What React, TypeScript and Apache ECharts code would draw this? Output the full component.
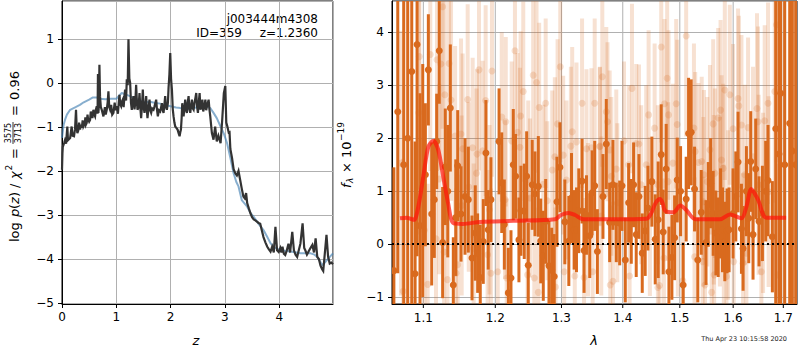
import React, { useEffect, useRef } from "react";
import * as echarts from "echarts";

// ---------- left panel: redshift PDF ----------
const zBlack = [0.0, 0.008, 0.015, 0.024, 0.04, 0.055, 0.075, 0.098, 0.11, 0.15, 0.178, 0.195, 0.221, 0.24, 0.258, 0.27, 0.283, 0.3, 0.315, 0.332, 0.35, 0.365, 0.38, 0.394, 0.42, 0.43, 0.44, 0.455, 0.47, 0.48, 0.5, 0.517, 0.53, 0.545, 0.56, 0.578, 0.595, 0.609, 0.625, 0.64, 0.655, 0.662, 0.67, 0.68, 0.689, 0.7, 0.715, 0.732, 0.75, 0.763, 0.79, 0.805, 0.824, 0.84, 0.855, 0.87, 0.886, 0.905, 0.925, 0.947, 0.97, 0.985, 1.009, 1.03, 1.045, 1.058, 1.072, 1.089, 1.105, 1.119, 1.135, 1.15, 1.162, 1.18, 1.193, 1.21, 1.224, 1.24, 1.255, 1.27, 1.285, 1.3, 1.316, 1.335, 1.35, 1.365, 1.378, 1.39, 1.41, 1.427, 1.442, 1.457, 1.472, 1.488, 1.503, 1.519, 1.535, 1.55, 1.562, 1.574, 1.59, 1.611, 1.625, 1.642, 1.66, 1.685, 1.7, 1.72, 1.734, 1.75, 1.765, 1.785, 1.808, 1.825, 1.839, 1.855, 1.87, 1.885, 1.9, 1.915, 1.931, 1.95, 1.962, 1.978, 1.993, 2.008, 2.024, 2.04, 2.054, 2.07, 2.085, 2.105, 2.128, 2.15, 2.165, 2.178, 2.19, 2.203, 2.214, 2.225, 2.239, 2.255, 2.269, 2.285, 2.3, 2.315, 2.331, 2.347, 2.362, 2.378, 2.392, 2.408, 2.423, 2.44, 2.455, 2.472, 2.488, 2.503, 2.518, 2.534, 2.55, 2.57, 2.585, 2.6, 2.62, 2.64, 2.655, 2.675, 2.7, 2.715, 2.73, 2.76, 2.79, 2.82, 2.85, 2.88, 2.92, 2.95, 2.98, 3.007, 3.025, 3.045, 3.07, 3.085, 3.1, 3.13, 3.16, 3.19, 3.22, 3.25, 3.28, 3.31, 3.34, 3.365, 3.39, 3.41, 3.44, 3.47, 3.5, 3.53, 3.56, 3.59, 3.62, 3.65, 3.68, 3.71, 3.745, 3.78, 3.81, 3.84, 3.87, 3.9, 3.93, 3.96, 3.99, 4.02, 4.04, 4.06, 4.085, 4.11, 4.14, 4.17, 4.2, 4.24, 4.27, 4.3, 4.33, 4.36, 4.39, 4.43, 4.46, 4.48, 4.51, 4.54, 4.575, 4.61, 4.64, 4.67, 4.7, 4.73, 4.76, 4.79, 4.81, 4.83, 4.87, 4.9, 4.93, 4.96, 4.99];
const pBlack = [-1.97, -1.6, -1.45, -1.44, -1.36, -1.3, -1.38, -0.99, -1.3, -1.25, -0.99, -1.2, -1.21, -1.05, -0.61, -1.0, -1.14, -1.08, -0.9, -1.06, -0.95, -1.02, -0.85, -0.99, -0.92, -0.78, -0.95, -0.91, -0.72, -0.82, -0.88, -0.84, -0.65, -0.7, -0.8, -0.61, -0.72, -0.76, -0.6, -0.53, -0.7, 0.2, -0.68, -0.5, 0.41, -0.3, -0.55, -0.61, -0.7, -0.76, -0.55, -0.72, -0.61, -0.45, -0.19, -0.55, -0.61, -0.5, -0.72, -0.68, -0.45, -0.62, -0.53, -0.7, -0.45, -0.27, -0.48, -0.53, -0.42, -0.38, -0.55, -0.3, -0.15, -0.4, 0.08, -0.05, 0.99, 0.1, 0.0, -0.45, -0.61, -0.45, -0.3, -0.6, -0.45, -0.04, -0.4, -0.61, -0.55, -0.23, -0.55, -0.8, -0.55, -0.15, -0.55, -0.68, -0.5, -0.3, -0.6, -0.8, -0.6, -0.38, -0.62, -0.68, -0.58, -0.61, -0.55, -0.45, -0.38, -0.62, -0.76, -0.62, -0.65, -0.55, -0.46, -0.62, -0.68, -0.5, -0.3, -0.55, -0.61, -0.45, -0.11, 0.2, 0.68, 0.1, -0.15, -0.6, -0.76, -0.9, -0.99, -1.02, -1.06, -1.15, -1.21, -1.12, -1.06, -0.8, -0.46, -0.65, -0.76, -0.55, -0.38, -0.62, -0.68, -0.45, -0.3, -0.6, -0.68, -0.5, -0.38, -0.58, -0.61, -0.45, -0.35, -0.23, -0.55, -0.68, -0.45, -0.23, -0.61, -0.5, -0.38, -0.65, -0.55, -0.38, -0.62, -0.5, -0.38, -0.6, -0.76, -1.14, -1.29, -0.99, -1.33, -1.2, -1.37, -0.84, -0.23, -0.07, -0.9, -0.99, -1.13, -1.12, -1.5, -1.7, -1.96, -2.05, -2.1, -2.0, -2.2, -2.4, -2.58, -2.62, -2.5, -2.73, -2.85, -2.96, -3.05, -3.1, -3.12, -3.15, -3.18, -3.2, -3.35, -3.5, -3.62, -3.72, -3.78, -3.83, -3.72, -3.85, -3.27, -3.8, -3.84, -3.75, -3.85, -3.72, -3.88, -3.91, -3.8, -3.65, -3.85, -3.38, -3.8, -3.9, -3.95, -3.8, -3.65, -3.19, -3.75, -3.8, -3.9, -3.83, -3.75, -3.68, -3.85, -3.53, -3.95, -4.0, -4.15, -4.23, -4.27, -4.0, -3.45, -3.95, -4.1, -4.08, -4.12];

const zBlue = [0.0, 0.03, 0.055, 0.09, 0.15, 0.25, 0.33, 0.4, 0.5, 0.57, 0.64, 0.7, 0.8, 0.9, 1.0, 1.06, 1.1, 1.15, 1.25, 1.35, 1.44, 1.52, 1.62, 1.7, 1.81, 1.9, 2.0, 2.1, 2.18, 2.3, 2.42, 2.55, 2.67, 2.73, 2.79, 2.85, 2.92, 2.98, 3.04, 3.1, 3.16, 3.21, 3.25, 3.31, 3.41, 3.47, 3.53, 3.62, 3.71, 3.78, 3.84, 3.92, 4.02, 4.21, 4.39, 4.58, 4.65, 4.7, 4.75, 4.79, 4.84, 4.88, 4.94, 4.99];
const pBlue = [-1.25, -0.95, -0.84, -0.72, -0.61, -0.55, -0.5, -0.44, -0.38, -0.33, -0.33, -0.36, -0.37, -0.36, -0.36, -0.28, -0.23, -0.25, -0.3, -0.36, -0.4, -0.44, -0.43, -0.45, -0.47, -0.5, -0.53, -0.56, -0.57, -0.58, -0.57, -0.54, -0.53, -0.57, -0.68, -0.8, -0.99, -1.15, -1.37, -1.7, -2.05, -2.25, -2.35, -2.66, -2.81, -2.95, -3.04, -3.2, -3.34, -3.5, -3.64, -3.74, -3.8, -3.83, -3.87, -3.87, -3.9, -3.95, -4.05, -4.14, -4.08, -4.02, -3.94, -3.87];

// ---------- right panel: spectrum ----------
const waveTicks = [1.1, 1.2, 1.3, 1.4, 1.5, 1.6, 1.7];

const darkWave = [1.0615, 1.0665, 1.0742, 1.0794, 1.0847, 1.0891, 1.0917, 1.0956, 1.0992, 1.1027, 1.1067, 1.1112, 1.1147, 1.1179, 1.1214, 1.126, 1.1296, 1.133, 1.1365, 1.1406, 1.144, 1.1467, 1.1513, 1.1569, 1.1615, 1.1667, 1.1713, 1.1747, 1.1784, 1.1827, 1.1865, 1.1898, 1.1937, 1.2055, 1.2094, 1.2132, 1.2191, 1.223, 1.2264, 1.2299, 1.2348, 1.2378, 1.2428, 1.2464, 1.2488, 1.2548, 1.259, 1.2641, 1.2678, 1.2717, 1.2754, 1.2805, 1.2847, 1.2887, 1.2929, 1.2976, 1.3053, 1.3116, 1.3159, 1.3201, 1.3238, 1.3275, 1.3328, 1.336, 1.3399, 1.3452, 1.349, 1.3533, 1.3577, 1.3669, 1.3724, 1.378, 1.3835, 1.3891, 1.3948, 1.3987, 1.4043, 1.41, 1.4145, 1.4185, 1.423, 1.4277, 1.4334, 1.4385, 1.4433, 1.4502, 1.4561, 1.4613, 1.4667, 1.4702, 1.4755, 1.4804, 1.4857, 1.4906, 1.4953, 1.5014, 1.5061, 1.5116, 1.516, 1.5208, 1.527, 1.533, 1.5394, 1.5483, 1.5525, 1.557, 1.5618, 1.5669, 1.5713, 1.5758, 1.5795, 1.5839, 1.5883, 1.5921, 1.5998, 1.6051, 1.6095, 1.6161, 1.6193, 1.6258, 1.6304, 1.6343, 1.6389, 1.6442, 1.6508, 1.6576, 1.6642, 1.6689, 1.6777, 1.6845, 1.6912, 1.6946, 1.7029, 1.7132, 1.7187, 1.7256];
const darkFlux = [-0.5, 2.5, 1.5, 2.0, 3.26, -0.56, 3.77, 0.35, 1.2, 1.31, 3.29, 0.57, 0.84, 1.94, 3.65, 0.03, 1.46, 1.0, 2.57, -0.77, 0.5, 1.48, 0.57, 0.9, 0.84, -0.26, 0.21, -0.17, -0.63, 0.05, 1.72, 0.27, 0.84, 1.94, 1.16, 0.37, -0.92, -0.64, 1.5, 1.28, 0.08, 0.63, 0.62, 1.28, -0.4, 1.12, 0.95, 1.09, 0.06, -0.22, 0.43, -0.41, -0.49, -0.61, 0.8, 1.45, 0.42, 0.06, 0.87, 0.27, 0.27, 0.63, 1.19, -0.12, 0.55, 0.16, 0.97, 1.1, -0.14, 0.9, 1.89, 0.41, 1.12, 0.41, 0.4, 1.1, -0.3, 0.78, 0.43, 1.12, 0.18, 0.9, -0.17, 0.25, 0.68, 1.18, 0.09, 0.46, 1.69, 0.23, 1.42, -0.52, -0.25, 0.12, 1.21, 1.0, -0.77, 0.85, 2.09, 2.11, 1.04, -0.3, 0.6, 0.03, 0.75, 1.15, 0.58, 0.21, 0.13, 0.58, 0.27, 0.05, 0.25, 0.27, 0.58, 0.9, 1.55, 0.29, -0.08, 1.0, 0.49, 1.56, 0.18, 1.42, 0.43, 0.58, 1.0, 1.2, 0.14, 2.18, 1.7, 2.85, 1.5, 2.28, 1.76, 1.5];
const darkErr = [
  1.95, 3.05, 4.0, 4.0, 4.5, 2.5, 4.0, 2.5, 2.2, 1.35, 1.05, 1.35, 1.1, 0.9, 1.0, 1.05, 1.1, 1.25, 1.2, 0.9, 1.1, 1.05, 0.9, 1.1, 1.0, 0.8, 0.9, 0.75, 1.0, 0.8, 1.0, 0.75, 0.8,
  1.0, 0.95, 0.85, 0.85, 0.9, 1.05, 0.8, 0.8, 0.85, 0.9, 0.85, 0.8, 0.85, 0.8, 0.95, 0.8, 0.85, 0.8, 0.85, 0.8, 0.8, 0.85, 0.85, 0.8, 0.85, 0.85, 0.75, 0.8, 0.8, 0.8, 0.8, 0.75, 0.8, 0.8, 0.85, 0.8,
  0.8, 0.85, 0.75, 0.85, 0.75, 0.8, 0.85, 0.8, 0.75, 0.8, 0.8, 0.8, 0.8, 0.75, 0.85, 0.8, 0.85, 0.85, 1.1, 0.95, 0.8, 0.85, 0.85, 0.8, 0.8, 0.8, 0.85, 0.8, 0.8, 1.05, 1.0, 0.8, 0.8, 0.8,
  0.8, 0.8, 0.85, 0.8, 0.8, 0.75, 0.85, 0.8, 0.75, 0.8, 0.8, 0.85, 0.85, 0.95, 0.85, 0.8, 0.85, 0.85, 0.95, 0.85, 0.95, 0.85, 0.9, 0.95, 1.05, 1.05,
  4.5, 5.0, 5.0, 5.0, 5.0, 5.0, 5.0,
];

const lightWave = [1.126, 1.0947, 1.1093, 1.1183, 1.1236, 1.1348, 1.129, 1.1375, 1.1606, 1.1766, 1.1952, 1.1861, 1.0939, 1.1513, 1.1431, 1.1676, 1.1536, 1.1738, 1.1817, 1.0707, 1.1731, 1.1214, 1.1621, 1.1522, 1.1916, 1.117, 1.1013, 1.128, 1.169, 1.1889, 1.1467, 1.0735, 1.1058, 1.1326, 1.1444, 1.1937, 1.2289, 1.2413, 1.2563, 1.2614, 1.2654, 1.2754, 1.2981, 1.3328, 1.3533, 1.2094, 1.2153, 1.2373, 1.2328, 1.224, 1.2363, 1.2939, 1.3027, 1.2896, 1.317, 1.3149, 1.3238, 1.3399, 1.348, 1.362, 1.2856, 1.2488, 1.2717, 1.3079, 1.2779, 1.2514, 1.2142, 1.3424, 1.2036, 1.2167, 1.258, 1.2478, 1.3211, 1.336, 1.35, 1.2641, 1.2906, 1.3043, 1.3658, 1.4157, 1.4667, 1.4773, 1.5116, 1.4935, 1.4725, 1.4445, 1.4797, 1.3724, 1.3745, 1.455, 1.4953, 1.5259, 1.3615, 1.423, 1.4021, 1.378, 1.4277, 1.5282, 1.4875, 1.4403, 1.41, 1.3891, 1.5342, 1.3808, 1.479, 1.4316, 1.4608, 1.3908, 1.3641, 1.4467, 1.4965, 1.4715, 1.4116, 1.379, 1.3835, 1.4608, 1.4636, 1.5056, 1.527, 1.5839, 1.5935, 1.6095, 1.611, 1.5758, 1.5713, 1.5618, 1.5998, 1.6161, 1.6291, 1.6468, 1.6689, 1.6622, 1.6488, 1.6859, 1.6825, 1.5557, 1.5777, 1.5403, 1.5445, 1.5507, 1.5807, 1.565, 1.6226, 1.6389, 1.65, 1.67, 1.5432, 1.563, 1.5745, 1.5903, 1.6589, 1.6258, 1.601, 1.582, 1.6193, 1.5421, 1.5636, 1.6555, 1.5871, 1.5464, 1.6892, 1.5589];
const lightFlux = [4.48, 3.54, 3.58, 3.48, 3.4, 3.41, 2.82, 2.72, 2.73, 3.29, 3.27, 2.71, 2.48, 2.08, 2.04, 1.82, 1.8, 1.7, 1.76, 1.53, 1.34, 1.23, 1.08, 0.73, 0.65, 0.1, 0.26, -0.15, -0.08, -0.2, -0.39, -0.89, -0.76, -0.67, -0.55, -0.55, 3.65, 2.88, 3.19, 3.05, 2.58, 2.66, 3.35, 2.66, 2.66, 2.4, 2.31, 2.42, 2.11, 1.95, 1.83, 2.27, 1.68, 1.65, 2.12, 1.85, 1.93, 1.8, 1.82, 1.85, 1.4, 1.21, 1.13, 1.21, 0.82, 0.87, 0.84, 0.46, -0.52, -0.64, -0.64, -0.58, -0.6, -0.63, -0.52, -0.91, -0.81, -0.52, 3.16, 2.94, 3.72, 3.13, 3.93, 2.65, 2.65, 2.44, 2.44, 2.5, 2.31, 2.19, 2.26, 2.19, 1.84, 1.9, 1.95, 1.78, 1.89, 1.75, 1.53, 1.5, 1.5, 1.42, 1.54, 1.28, 1.18, 1.12, 1.12, 0.78, 0.53, 0.52, 0.51, -0.26, -0.6, -0.77, -0.7, -0.82, -0.78, -0.69, -0.24, 2.91, 2.82, 2.75, 2.61, 2.53, 2.38, 2.27, 2.18, 2.25, 2.2, 2.56, 2.66, 2.33, 2.31, 4.14, 2.88, 1.78, 1.59, 1.56, 1.31, 1.18, 1.43, 1.34, 1.31, 1.65, 1.12, 0.99, 0.8, 0.84, 0.8, 0.55, 0.78, -0.17, -0.33, -0.2, -0.36, -0.33, -0.58, -0.52, -0.61, -0.77, -0.58, -0.91];
const lightErr = [2.3, 2.5, 2.2, 2.1, 2.0, 2.0, 1.9, 1.9, 1.8, 1.9, 2.0, 1.8, 2.3, 1.8, 1.7, 1.7, 1.8, 1.6, 1.7, 2.5, 1.6, 1.8, 1.6, 1.7, 1.6, 1.7, 2.0, 1.7, 1.6, 1.6, 1.7, 2.5, 1.9, 1.7, 1.6, 1.6, 1.9, 1.7, 1.8, 1.7, 1.6, 1.6, 1.8, 1.6, 1.6, 1.6, 1.6, 1.6, 1.5, 1.5, 1.5, 1.6, 1.5, 1.5, 1.6, 1.5, 1.5, 1.5, 1.5, 1.5, 1.5, 1.5, 1.5, 1.5, 1.5, 1.5, 1.5, 1.45, 1.5, 1.5, 1.5, 1.5, 1.5, 1.5, 1.5, 1.6, 1.5, 1.5, 1.7, 1.6, 1.8, 1.7, 1.9, 1.6, 1.6, 1.6, 1.6, 1.6, 1.5, 1.6, 1.6, 1.6, 1.5, 1.5, 1.5, 1.5, 1.5, 1.5, 1.5, 1.5, 1.5, 1.5, 1.5, 1.5, 1.5, 1.5, 1.5, 1.5, 1.5, 1.5, 1.5, 1.5, 1.5, 1.5, 1.5, 1.5, 1.5, 1.5, 1.5, 1.7, 1.7, 1.7, 1.7, 1.7, 1.7, 1.6, 1.6, 1.7, 1.7, 1.8, 1.9, 1.8, 1.8, 2.6, 2.1, 1.6, 1.6, 1.6, 1.6, 1.6, 1.6, 1.6, 1.7, 1.7, 1.7, 1.8, 1.6, 1.6, 1.6, 1.6, 1.7, 1.7, 1.7, 1.7, 1.7, 1.6, 1.6, 1.7, 1.6, 1.6, 2.1, 1.6];

const modelWave = [1.0694, 1.078, 1.085, 1.088, 1.0934, 1.1, 1.1067, 1.1133, 1.12, 1.1267, 1.1334, 1.1403, 1.1539, 1.1781, 1.2265, 1.2899, 1.2992, 1.3108, 1.3214, 1.3348, 1.3841, 1.4411, 1.4484, 1.457, 1.4645, 1.469, 1.4735, 1.4884, 1.501, 1.5113, 1.5289, 1.5747, 1.5935, 1.616, 1.6256, 1.6356, 1.6487, 1.6654, 1.7058];
const modelFlux = [0.49, 0.5, 0.47, 0.46, 0.71, 1.28, 1.84, 1.95, 1.78, 1.28, 0.78, 0.4, 0.38, 0.42, 0.44, 0.47, 0.55, 0.59, 0.55, 0.47, 0.47, 0.48, 0.57, 0.78, 0.85, 0.78, 0.63, 0.6, 0.73, 0.65, 0.47, 0.47, 0.56, 0.49, 0.7, 1.04, 0.84, 0.5, 0.5];

const FONT = "DejaVu Sans";
const L_XMAX = 4.99, L_YMIN = -5.02, L_YMAX = 1.86;
const R_XMIN = 1.0591, R_XMAX = 1.7284, R_YMIN = -1.13, R_YMAX = 4.59;
const DARK = "#d96a1e";
const LIGHT = "rgba(217,106,30,0.2)";

const minus = (v: number) => String(v).replace("-", "\u2212");

const errBar = (w: number, fill: string, r: number) => (_p: any, api: any) => {
  const x = api.value(0), f = api.value(1), e = api.value(2);
  const top = api.coord([x, f + e]);
  const bot = api.coord([x, f - e]);
  const c = api.coord([x, f]);
  return {
    type: "group",
    children: [
      { type: "rect", shape: { x: top[0] - w / 2, y: top[1], width: w, height: bot[1] - top[1] }, style: { fill } },
      { type: "circle", shape: { cx: c[0], cy: c[1], r }, style: { fill } },
    ],
  };
};

const txt = (text: string, x: number, y: number, extra: any = {}) => ({
  type: "text",
  x,
  y,
  style: {
    text,
    fontSize: 13,
    fontFamily: FONT,
    fill: "#000",
    align: "left",
    textAlign: "left",
    verticalAlign: "middle",
    textVerticalAlign: "middle",
    ...extra,
  },
});

export default function App() {
  const ref = useRef<HTMLDivElement>(null);
  useEffect(() => {
    if (!ref.current) return;
    const chart = echarts.init(ref.current, undefined, { renderer: "svg" });
    const axisLabel = { color: "#000", fontSize: 12, fontFamily: FONT, formatter: minus };
    const option: any = {
      animation: false,
      grid: [
        { left: 62, top: 1, width: 271, height: 303, show: true, borderColor: "#000", borderWidth: 1, backgroundColor: "transparent" },
        { left: 392, top: 1, width: 405, height: 303, show: true, borderColor: "#000", borderWidth: 1, backgroundColor: "transparent" },
      ],
      xAxis: [
        {
          type: "value", gridIndex: 0, min: 0, max: L_XMAX, interval: 1,
          axisLine: { show: true, onZero: false, lineStyle: { color: "#000" } },
          axisTick: { show: true, length: 4, lineStyle: { color: "#000" } },
          axisLabel: { ...axisLabel, margin: 7, showMaxLabel: false },
          splitLine: { show: true, lineStyle: { color: "#b0b0b0", width: 1 } },
        },
        {
          type: "log", gridIndex: 1, min: R_XMIN, max: R_XMAX,
          axisLine: { show: true, onZero: false, lineStyle: { color: "#000" } },
          axisTick: { show: false },
          axisLabel: { show: false },
          splitLine: { show: false },
          minorSplitLine: { show: false },
        },
      ],
      yAxis: [
        {
          type: "value", gridIndex: 0, min: L_YMIN, max: L_YMAX, splitNumber: 5,
          axisLine: { show: true, onZero: false, lineStyle: { color: "#000" } },
          axisTick: { show: true, length: 4, lineStyle: { color: "#000" } },
          axisLabel: { ...axisLabel, margin: 8, showMinLabel: false, showMaxLabel: false },
          splitLine: { show: true, lineStyle: { color: "#b0b0b0", width: 1 } },
        },
        {
          type: "value", gridIndex: 1, min: R_YMIN, max: R_YMAX, splitNumber: 5,
          axisLine: { show: true, onZero: false, lineStyle: { color: "#000" } },
          axisTick: { show: true, length: 4, lineStyle: { color: "#000" } },
          axisLabel: { ...axisLabel, margin: 8, showMinLabel: false, showMaxLabel: false },
          splitLine: { show: true, lineStyle: { color: "#b0b0b0", width: 1 } },
        },
      ],
      series: [
        {
          type: "line", xAxisIndex: 0, yAxisIndex: 0, z: 3,
          data: zBlue.map((z, i) => [z, pBlue[i]]),
          showSymbol: false, symbol: "none",
          lineStyle: { color: "rgba(70,130,180,0.65)", width: 2 },
        },
        {
          type: "line", xAxisIndex: 0, yAxisIndex: 0, z: 4,
          data: zBlack.map((z, i) => [z, pBlack[i]]),
          showSymbol: false, symbol: "none",
          lineStyle: { color: "#333333", width: 2.2, join: "miter" },
        },
        {
          type: "custom", xAxisIndex: 1, yAxisIndex: 1, z: 1, clip: false, silent: true,
          data: waveTicks.map((v) => [v, R_YMIN]),
          renderItem: (_p: any, api: any) => {
            const v = api.value(0);
            const top = api.coord([v, R_YMAX]);
            const bot = api.coord([v, R_YMIN]);
            return {
              type: "group",
              children: [
                { type: "line", shape: { x1: top[0], y1: top[1], x2: bot[0], y2: bot[1] }, style: { stroke: "#b0b0b0", lineWidth: 1 } },
                { type: "line", shape: { x1: bot[0], y1: bot[1], x2: bot[0], y2: bot[1] + 4 }, style: { stroke: "#000", lineWidth: 1 } },
                {
                  type: "text", x: bot[0], y: bot[1] + 8,
                  style: { text: v.toFixed(1), fontSize: 12, fontFamily: FONT, fill: "#000", align: "center", textAlign: "center", verticalAlign: "top", textVerticalAlign: "top" },
                },
              ],
            };
          },
        },
        {
          type: "custom", xAxisIndex: 1, yAxisIndex: 1, z: 2, clip: true, silent: true,
          data: lightWave.map((w, i) => [w, lightFlux[i], lightErr[i]]),
          renderItem: errBar(4, LIGHT, 3.5),
        },
        {
          type: "custom", xAxisIndex: 1, yAxisIndex: 1, z: 3, clip: true, silent: true,
          data: darkWave.map((w, i) => [w, darkFlux[i], darkErr[i]]),
          renderItem: errBar(3, DARK, 3.5),
        },
        {
          type: "line", xAxisIndex: 1, yAxisIndex: 1, z: 5,
          data: modelWave.map((w, i) => [w, modelFlux[i]]),
          showSymbol: false, symbol: "none", smooth: 0.3,
          lineStyle: { color: "rgba(255,20,10,0.7)", width: 4 },
          markLine: {
            silent: true, symbol: ["none", "none"], label: { show: false },
            lineStyle: { color: "#000", type: [2, 3], width: 2 },
            data: [{ yAxis: 0 }],
          },
        },
      ],
      graphic: [
        txt("j003444m4308", 318, 19, { align: "right", textAlign: "right", fontSize: 12 }),
        txt("ID=359", 242, 33, { align: "right", textAlign: "right", fontSize: 12 }),
        txt("z=1.2360", 318, 33, { align: "right", textAlign: "right", fontSize: 12 }),
        txt("z", 196, 340, { align: "center", textAlign: "center", fontStyle: "italic" }),
        txt("\u03bb", 594, 340, { align: "center", textAlign: "center", fontStyle: "italic" }),
        txt("Thu Apr 23 10:15:58 2020", 787, 339, { align: "right", textAlign: "right", fontSize: 6.5, fill: "#222" }),
        {
          type: "group", x: 14, y: 242, rotation: Math.PI / 2,
          children: [
            txt("log", 0, 0),
            txt("p", 25, 0, { fontStyle: "italic" }),
            txt("(", 33, 0),
            txt("z", 38, 0, { fontStyle: "italic" }),
            txt(")", 45, 0),
            txt("/", 54, 0),
            txt("\u03c7", 63, 0, { fontStyle: "italic" }),
            txt("2", 71.5, -5, { fontSize: 9 }),
            txt("=", 83, 0),
            txt("3575", 109, -6, { fontSize: 8, align: "center", textAlign: "center" }),
            { type: "line", shape: { x1: 98, y1: -1, x2: 120, y2: -1 }, style: { stroke: "#000", lineWidth: 0.8 } },
            txt("3713", 109, 4.5, { fontSize: 8, align: "center", textAlign: "center" }),
            txt("=", 126, 0),
            txt("0.96", 142, 0),
          ],
        },
        {
          type: "group", x: 346, y: 188, rotation: Math.PI / 2,
          children: [
            txt("f", 0, 0, { fontStyle: "italic" }),
            txt("\u03bb", 5, 3.5, { fontSize: 9, fontStyle: "italic" }),
            txt("\u00d7", 15, 0),
            txt("10", 30, 0),
            txt("\u221219", 47, -5, { fontSize: 9 }),
          ],
        },
      ],
    };
    chart.setOption(option);
    return () => chart.dispose();
  }, []);
  return <div ref={ref} style={{ position: "absolute", left: 0, top: 0, width: 800, height: 350 }} />;
}
